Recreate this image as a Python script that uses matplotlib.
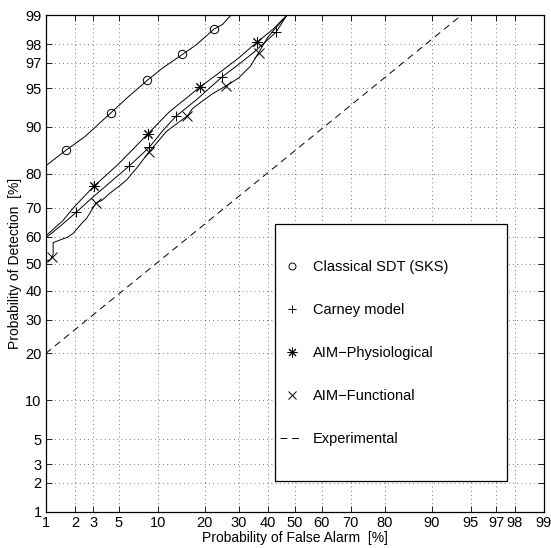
"""
DET curves on normal-deviate axes: detection vs. false alarm probability.
"""

from statistics import NormalDist
import numpy as np
import matplotlib
matplotlib.use("Agg")
import matplotlib.pyplot as plt
from matplotlib.patches import Rectangle
from matplotlib.lines import Line2D

plt.rcParams["font.family"] = ["Liberation Sans", "DejaVu Sans"]
plt.rcParams["font.size"] = 10

# ─────────────────────────────────────────────────────────────
# DATA  (percent false alarm, percent detection)
# ─────────────────────────────────────────────────────────────
ticks = [1, 2, 3, 5, 10, 20, 30, 40, 50, 60, 70, 80, 90, 95, 97, 98, 99]

sks_pfa = [1, 1.63, 2.5, 4.28, 6, 8.4, 11, 14.7, 18, 22.5, 25, 27.5]
sks_pd = [82, 85.6, 88.3, 92.1, 94.1, 95.7, 96.7, 97.5, 98.0, 98.6, 98.75, 99]
sks_mk_pfa = [1.63, 4.28, 8.4, 14.7, 22.5]
sks_mk_pd = [85.6, 92.1, 95.7, 97.5, 98.6]

carney_pfa = [1, 1.4, 2.05, 3, 4, 6.1, 8.7, 11, 13.3, 18, 24.9, 30, 35, 43.1, 47]
carney_pd = [59.5, 63.5, 68.4, 73.5, 77, 82, 86.2, 89.5, 91.6, 93.8, 96.0, 96.9, 97.6, 98.5, 99]
carney_mk_pfa = [2.05, 6.1, 8.7, 13.3, 24.9, 43.1]
carney_mk_pd = [68.4, 82, 86.2, 91.6, 96.0, 98.5]

phys_pfa = [1, 1.5, 2, 3.04, 5, 8.5, 12, 18.8, 25, 30, 36.2, 42, 47]
phys_pd = [60.2, 65.5, 70.5, 76.6, 82.5, 88.8, 92.2, 95.1, 96.5, 97.3, 98.1, 98.6, 99]
phys_mk_pfa = [3.04, 8.5, 18.8, 36.2]
phys_mk_pd = [76.6, 88.8, 95.1, 98.1]

func_pfa = [1, 1.12, 1.17, 1.2, 1.2, 1.53, 1.7, 1.93, 2.1, 2.33, 2.6, 3.17, 3.6, 4.2,
            5.0, 5.8, 7.0, 8.7, 10, 11.5, 13, 15.8, 17, 18.8, 22, 26.0, 30,
            34, 36.8, 40, 47]
func_pd = [50.8, 51.5, 52.5, 53.5, 57.8, 59.2, 59.8, 61.2, 62.8, 64.7, 66.5, 71.5, 72.4, 74.5,
           76.5, 78.3, 81.5, 85.3, 87.3, 89.2, 90.2, 91.7, 92.7, 93.4, 94.4, 95.2, 95.9,
           96.8, 97.6, 98.3, 99]
func_mk_pfa = [1.17, 3.17, 8.7, 15.8, 26.0, 36.8]
func_mk_pd = [52.5, 71.5, 85.3, 91.7, 95.2, 97.6]

exp_pfa = [1, 94]
exp_pd = [20, 99]

# ─────────────────────────────────────────────────────────────
# NORMAL-DEVIATE SCALE
# ─────────────────────────────────────────────────────────────
_nd = NormalDist()


def probit(p):
    p = np.clip(np.asarray(p, dtype=float) / 100.0, 1e-9, 1 - 1e-9)
    return np.vectorize(_nd.inv_cdf, otypes=[float])(p)


def inv_probit(z):
    return np.vectorize(_nd.cdf, otypes=[float])(np.asarray(z, dtype=float)) * 100.0


fig = plt.figure(figsize=(5.51, 5.48), dpi=100)
ax = fig.add_axes([0.083, 0.066, 0.904, 0.906])
ax.set_xscale("function", functions=(probit, inv_probit))
ax.set_yscale("function", functions=(probit, inv_probit))

lw = 0.7
ax.plot(sks_pfa, sks_pd, color="k", lw=lw)
ax.plot(carney_pfa, carney_pd, color="k", lw=lw)
ax.plot(phys_pfa, phys_pd, color="k", lw=lw)
ax.plot(func_pfa, func_pd, color="k", lw=lw)
ax.plot(exp_pfa, exp_pd, color="k", lw=lw, ls=(0, (7, 5)))

ax.plot(sks_mk_pfa, sks_mk_pd, ls="none", marker="o", ms=6, mfc="none", mec="k", mew=0.7)
ax.plot(carney_mk_pfa, carney_mk_pd, ls="none", marker="+", ms=7, mec="k", mew=0.7)
ax.plot(phys_mk_pfa, phys_mk_pd, ls="none", marker=(8, 2, 0), ms=8, mec="k", mew=0.7)
ax.plot(func_mk_pfa, func_mk_pd, ls="none", marker="x", ms=7, mec="k", mew=0.7)

ax.set_xlim(1, 99)
ax.set_ylim(1, 99)
ax.set_xticks(ticks)
ax.set_yticks(ticks)
ax.set_xticklabels([str(t) for t in ticks])
ax.set_yticklabels([str(t) for t in ticks])
ax.minorticks_off()
ax.tick_params(direction="in", top=True, right=True, length=4, width=0.6, pad=3,
               labelsize=10.5)
ax.grid(True, color="k", ls=(0, (1, 4)), lw=0.6, alpha=0.7)
for sp in ax.spines.values():
    sp.set_linewidth(0.9)

ax.set_xlabel("Probability of False Alarm  [%]", labelpad=1)
ax.set_ylabel("Probability of Detection  [%]", labelpad=2)

# legend box (MATLAB style, lots of padding)
ax.add_patch(Rectangle((0.460, 0.062), 0.466, 0.518, transform=ax.transAxes,
                       facecolor="white", edgecolor="k", lw=0.9, zorder=4))
handles = [
    Line2D([], [], ls="none", marker="o", ms=5, mfc="none", mec="k", mew=0.7),
    Line2D([], [], ls="none", marker="+", ms=6, mec="k", mew=0.7),
    Line2D([], [], ls="none", marker=(8, 2, 0), ms=7, mec="k", mew=0.7),
    Line2D([], [], ls="none", marker="x", ms=6, mec="k", mew=0.7),
    Line2D([], [], color="k", lw=lw, ls=(0, (7, 5))),
]
labels = ["Classical SDT (SKS)", "Carney model", "AIM\u2212Physiological",
          "AIM\u2212Functional", "Experimental"]
leg = ax.legend(handles, labels, loc="center left", bbox_to_anchor=(0.470, 0.320),
                frameon=False, borderpad=0, borderaxespad=0, labelspacing=2.0,
                handlelength=1.6, handletextpad=0.65, fontsize=10.5)
leg.set_zorder(5)

plt.savefig("out.png", dpi=100)
plt.close(fig)
